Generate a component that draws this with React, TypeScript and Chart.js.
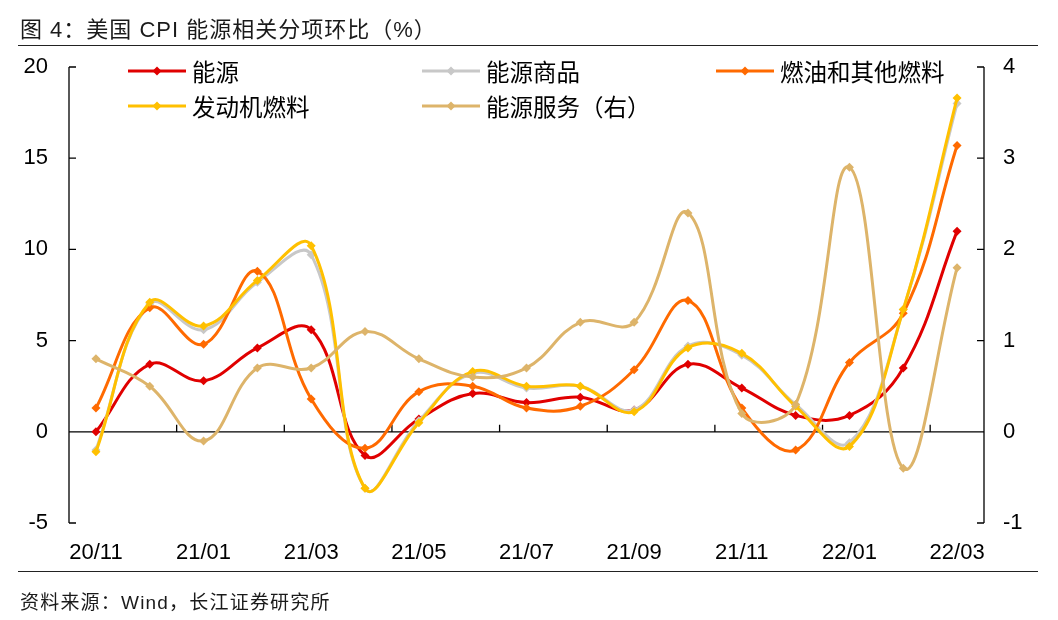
import React, { useEffect, useRef } from "react";
import { Chart, registerables } from "chart.js";

Chart.register(...registerables);

const categories = [
  "20/11", "20/12", "21/01", "21/02", "21/03", "21/04", "21/05", "21/06", "21/07",
  "21/08", "21/09", "21/10", "21/11", "21/12", "22/01", "22/02", "22/03",
];
const energy = [0, 3.7, 2.8, 4.6, 5.6, -1.3, 0.7, 2.1, 1.6, 1.9, 1.2, 3.7, 2.4, 0.9, 0.9, 3.5, 11.0];
const energyCommodities = [-1.0, 7.0, 5.6, 8.2, 9.7, -3.1, 0.6, 3.2, 2.4, 2.5, 1.2, 4.7, 4.2, 1.5, -0.6, 6.7, 18.0];
const fuelOil = [1.3, 6.8, 4.8, 8.8, 1.8, -0.9, 2.2, 2.5, 1.3, 1.4, 3.4, 7.2, 1.3, -1.0, 3.8, 6.5, 15.7];
const motorFuel = [-1.1, 7.1, 5.8, 8.3, 10.2, -3.1, 0.5, 3.3, 2.5, 2.5, 1.1, 4.6, 4.3, 1.4, -0.8, 6.7, 18.3];
const energyServices = [0.8, 0.5, -0.1, 0.7, 0.7, 1.1, 0.8, 0.6, 0.7, 1.2, 1.2, 2.4, 0.2, 0.3, 2.9, -0.4, 1.8];

const leftAxis = { min: -5, max: 20, step: 5 };
const rightAxis = { min: -1, max: 4, step: 1 };

const seriesNames = ["能源", "能源商品", "燃油和其他燃料", "发动机燃料", "能源服务（右）"];
const seriesColors = ["#E00000", "#C8C8C8", "#FF6A00", "#FFC000", "#DDB46A"];
const seriesData = [energy, energyCommodities, fuelOil, motorFuel, energyServices];
const seriesAxis = ["y", "y", "y", "y", "y1"];

const titleText = "图 4：美国 CPI 能源相关分项环比（%）";
const sourceText = "资料来源：Wind，长江证券研究所";

const FONT = '"Liberation Sans", "Noto Sans CJK SC", sans-serif';

const axesPlugin = {
  id: "axesDeco",
  beforeDatasetsDraw(chart: any) {
    const { ctx, chartArea: a, scales } = chart;
    const x = scales.x;
    const yl = scales.y;
    const yr = scales.y1;
    ctx.save();
    ctx.strokeStyle = "#000";
    ctx.lineWidth = 1.3;
    ctx.beginPath();
    ctx.moveTo(a.left, a.top);
    ctx.lineTo(a.left, a.bottom);
    yl.ticks.forEach((t: any) => {
      const py = yl.getPixelForValue(t.value);
      ctx.moveTo(a.left, py);
      ctx.lineTo(a.left + 7, py);
    });
    ctx.moveTo(a.right, a.top);
    ctx.lineTo(a.right, a.bottom);
    yr.ticks.forEach((t: any) => {
      const py = yr.getPixelForValue(t.value);
      ctx.moveTo(a.right, py);
      ctx.lineTo(a.right - 7, py);
    });
    const y0 = yl.getPixelForValue(0);
    ctx.moveTo(a.left, y0);
    ctx.lineTo(a.right, y0);
    for (let i = 2; i < categories.length; i += 2) {
      const px = (x.getPixelForValue(i - 1) + x.getPixelForValue(i)) / 2;
      ctx.moveTo(px, y0);
      ctx.lineTo(px, y0 - 7);
    }
    ctx.stroke();
    ctx.restore();
  },
};

function LegendItem({ label, color }: { label: string; color: string }) {
  return (
    <div style={{ display: "flex", alignItems: "center", height: 35 }}>
      <svg width={58} height={12} style={{ marginRight: 6, flex: "none" }}>
        <line x1={0} y1={6} x2={58} y2={6} stroke={color} strokeWidth={3} />
        <polygon points="29,1.5 33.5,6 29,10.5 24.5,6" fill={color} />
      </svg>
      <span style={{ whiteSpace: "nowrap" }}>{label}</span>
    </div>
  );
}

export default function App() {
  const canvasRef = useRef<HTMLCanvasElement | null>(null);

  useEffect(() => {
    document.body.style.margin = "0";
    const canvas = canvasRef.current;
    if (!canvas) return;
    Chart.defaults.font.family = FONT;
    Chart.defaults.font.size = 22;
    Chart.defaults.color = "#000";

    const datasets = seriesData.map((d, i) => ({
      label: seriesNames[i],
      data: d,
      yAxisID: seriesAxis[i],
      borderColor: seriesColors[i],
      backgroundColor: seriesColors[i],
      borderWidth: 3,
      pointStyle: "rectRot" as const,
      pointRadius: 4.5,
      pointBorderWidth: 0,
      pointBackgroundColor: seriesColors[i],
      tension: 0.4,
      fill: false,
      order: seriesData.length - i,
    }));

    const chart = new Chart(canvas, {
      type: "line",
      data: { labels: categories, datasets },
      options: {
        responsive: false,
        animation: false,
        layout: { padding: { top: 67, left: 0, right: 0, bottom: 0 } },
        plugins: { legend: { display: false }, tooltip: { enabled: false } },
        scales: {
          x: {
            type: "category",
            offset: true,
            grid: { display: false, drawTicks: false },
            border: { display: false },
            ticks: {
              autoSkip: false,
              maxRotation: 0,
              minRotation: 0,
              padding: 17,
              font: { size: 22 },
              callback: (_v: any, i: number) => (i % 2 === 0 ? categories[i] : ""),
            },
            afterFit: (s: any) => {
              s.height = 97;
            },
          },
          y: {
            position: "left",
            min: leftAxis.min,
            max: leftAxis.max,
            grid: { display: false, drawTicks: false },
            border: { display: false },
            ticks: { stepSize: leftAxis.step, padding: 21, font: { size: 22 } },
            afterFit: (s: any) => {
              s.width = 69;
            },
          },
          y1: {
            position: "right",
            min: rightAxis.min,
            max: rightAxis.max,
            grid: { display: false, drawTicks: false },
            border: { display: false },
            ticks: { stepSize: rightAxis.step, padding: 19, font: { size: 22 } },
            afterFit: (s: any) => {
              s.width = 74;
            },
          },
        },
      },
      plugins: [axesPlugin],
    });
    return () => chart.destroy();
  }, []);

  return (
    <div style={{ position: "relative", width: 1058, height: 620, fontFamily: FONT, background: "#fff" }}>
      <canvas ref={canvasRef} width={1058} height={620} style={{ position: "absolute", left: 0, top: 0 }} />
      <div style={{ position: "absolute", left: 20, top: 16, fontSize: 22, letterSpacing: "1px", color: "#1a1a1a", whiteSpace: "nowrap", lineHeight: "28px" }}>
        {titleText}
      </div>
      <div style={{ position: "absolute", left: 18, top: 45, width: 1020, height: 0, borderTop: "1.5px solid #222" }} />
      <div style={{ position: "absolute", left: 18, top: 571, width: 1020, height: 0, borderTop: "1.5px solid #222" }} />
      <div style={{ position: "absolute", left: 20, top: 590, fontSize: 19, letterSpacing: "1.2px", color: "#1a1a1a", whiteSpace: "nowrap", lineHeight: "26px" }}>
        {sourceText}
      </div>
      <div
        style={{
          position: "absolute",
          left: 128,
          top: 53,
          display: "grid",
          gridTemplateColumns: "294px 294px 294px",
          fontSize: 23.5,
          color: "#000",
        }}
      >
        {seriesNames.map((n, i) => (
          <LegendItem key={n} label={n} color={seriesColors[i]} />
        ))}
      </div>
    </div>
  );
}
